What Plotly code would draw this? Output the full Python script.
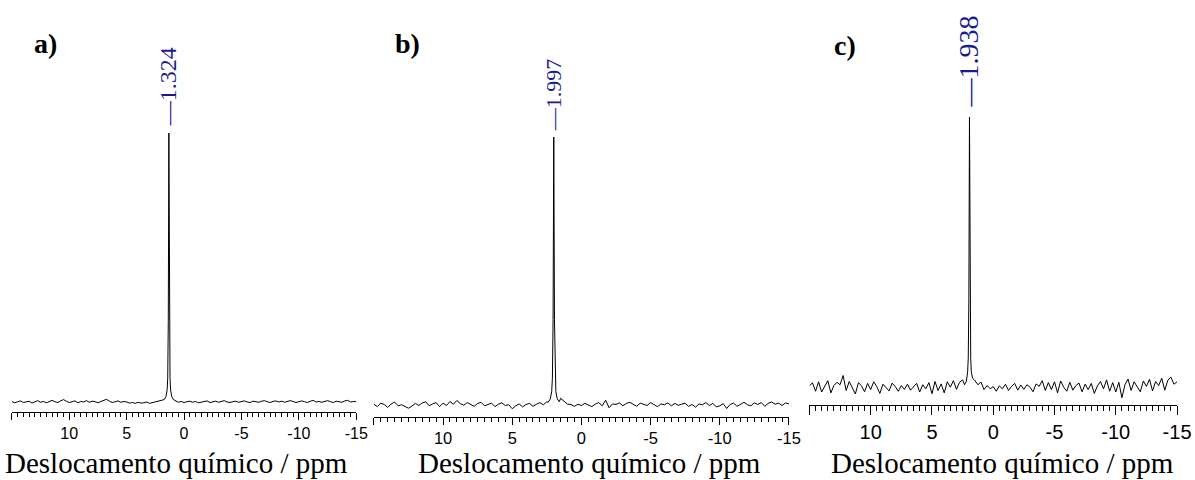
import numpy as np
import plotly.graph_objects as go

# Chemical-shift grid for the baseline (ppm, high to low)
ppm_grid = np.arange(15.0, -15.001, -0.25)

# Baseline intensities (peak maximum = 100), one value per grid point
baseline_a = [
    0.2, -0.3, 0.1, 0.4, -0.2, 0.0, 0.3, -0.4, 0.1, 0.5,
    -0.1, 0.2, -0.3, 0.3, 0.6, 0.1, -0.2, 0.4, 0.9, 0.3,
    -0.2, 0.1, 0.4, -0.3, 0.2, 0.0, 0.5, -0.1, 0.3, 0.1,
    -0.3, 0.2, 0.6, 1.0, 0.3, -0.2, 0.1, 0.4, -0.1, 0.2,
    0.0, -0.4, -0.2, -0.5, -0.1, -0.4, -0.3, 0.0, -0.5, -0.2,
    0.1, 0.3, 0.6, 1.0, 2.0, 2.0, 1.0, 0.4, -0.1, 0.2,
    -0.2, 0.1, 0.3, -0.1, 0.2, -0.3, 0.0, 0.2, 0.4, -0.2,
    0.1, 0.3, -0.1, 0.2, 0.5, 0.0, -0.2, 0.1, 0.3, -0.1,
    0.2, 0.4, 0.0, -0.2, 0.3, 0.1, -0.1, 0.3, 0.5, 0.1,
    -0.2, 0.2, 0.4, 0.0, 0.3, -0.1, 0.1, 0.5, 0.2, -0.2,
    0.1, 0.4, 0.1, -0.2, 0.3, 0.6, 0.0, 0.2, -0.1, 0.3,
    0.5, 0.1, -0.2, 0.3, 0.2, -0.1, 0.4, 0.6, 0.0, 0.2, 0.1,
]
baseline_b = [
    0.3, -0.6, 0.7, 0.2, -0.9, 0.4, 1.1, -0.3, 0.1, -0.7,
    -1.2, -0.4, 0.6, -0.2, 0.8, 1.2, -0.3, 0.4, 0.9, -0.6,
    0.7, -0.2, 1.3, 0.3, 1.7, 0.5, -0.1, 0.9, 0.2, -0.5,
    0.6, 1.0, -0.3, 0.2, 0.7, -0.6, 0.3, 0.8, -0.2, 0.1,
    -1.4, -0.3, 0.4, -0.7, 0.2, 0.6, -0.5, 0.3, 0.9, 0.1,
    1.2, 0.4, 0.9, 1.5, 2.5, 1.5, 0.3, 0.2, -0.5, 0.3,
    -0.2, 0.6, 0.1, -0.6, 0.3, 0.9, -0.3, 1.8, -1.0, 0.4,
    0.2, 0.8, -0.3, 0.6, 1.0, 0.1, -0.5, 0.7, 0.3, -0.2,
    0.9, 0.2, -0.6, 0.4, 0.1, 0.8, -0.3, 0.6, -0.1, 0.3,
    0.7, -0.5, 0.2, -0.8, 0.4, 0.1, 0.9, -0.2, 0.6, -0.7,
    -0.3, 0.5, -1.3, 0.2, 0.7, -0.5, 0.3, 1.0, 0.1, -0.3,
    0.8, 0.2, 0.9, -0.5, 0.6, 1.1, 0.3, 0.7, -0.2, 0.8, 0.4,
]
baseline_c = [
    0.8, 1.9, -1.2, 2.3, -1.5, 0.5, 2.7, -1.8, 0.9, 2.1,
    1.2, 4.6, -0.9, 2.4, 0.3, -2.2, 2.0, 0.8, -1.4, 1.7,
    -0.6, 2.3, 0.5, -2.0, 1.4, 0.2, -1.1, 1.8, 0.6, -1.2,
    0.9, -0.5, 1.4, -0.8, 0.3, 1.7, -1.5, 1.2, -0.3, 2.0,
    -2.1, 2.4, -0.9, 1.5, -1.8, 2.3, 0.3, 2.7, -0.5, 2.1,
    3.0, 3.4, 3.6, 4.2, 3.6, 1.2, 2.2, -0.6, 0.9, -0.3,
    0.5, -1.2, 0.8, -0.3, 1.4, -0.9, 0.6, 1.7, -0.8, 1.1,
    -0.5, 1.2, 0.3, -1.4, 1.5, 0.6, 2.7, -0.9, 2.0, -0.6,
    2.3, -1.8, 2.6, 0.3, -1.2, 2.1, -0.8, 0.9, 1.8, -1.4,
    1.4, -0.6, 1.7, -2.0, 0.8, 2.4, -0.3, 3.0, -1.2, 2.0,
    -1.5, 2.1, -3.6, 1.2, 3.3, -0.9, 2.3, 0.5, -1.4, 2.6,
    0.6, 3.2, -1.1, 2.4, 0.9, 3.6, -0.8, 2.9, 4.0, 1.4, 2.3,
]

# Line shape around each resonance: offsets from the peak position (ppm)
peak_offsets = [-0.4, -0.25, -0.15, -0.1, -0.05, 0.0, 0.05, 0.1, 0.15, 0.25, 0.4]
peak_a = [0.9, 2.0, 4.5, 9.0, 30.0, 100.0, 30.0, 9.0, 4.5, 2.0, 0.9]
peak_b = [1.2, 2.3, 5.0, 10.0, 32.0, 100.0, 32.0, 10.0, 5.0, 2.3, 1.0]
peak_c = [3.0, 3.6, 6.0, 11.0, 33.0, 100.0, 33.0, 11.0, 6.0, 2.5, 1.2]

# Peak positions (ppm), panel letters and axis text
shifts = [1.324, 1.997, 1.938]
shift_labels = ["—1.324", "—1.997", "—1.938"]
panel_letters = ["a)", "b)", "c)"]
axis_title = "Deslocamento químico / ppm"
tick_vals = [15, 10, 5, 0, -5, -10, -15]
tick_text = ["", "10", "5", "0", "-5", "-10", "-15"]
mid_tick_vals = [12.5, 7.5, 2.5, -2.5, -7.5, -12.5]

W, H = 1195, 480

# Pixel geometry per panel: left/right axis ends, axis line, baseline, peak top
panels = [
    dict(x0=12.0, x1=360.5, axis=412.0, base=402.0, top=133.0,
         tfont=16, tlen=7, mlen=5, nlen=3.5, lab_px=128, lab_size=24,
         letter_x=32, letter_y=43, title_x=178.5),
    dict(x0=378.3, x1=798.3, axis=416.5, base=405.0, top=137.0,
         tfont=16.5, tlen=7, mlen=5, nlen=4, lab_px=133, lab_size=22,
         letter_x=398, letter_y=43, title_x=596),
    dict(x0=819.0, x1=1191.0, axis=404.5, base=388.0, top=117.0,
         tfont=20, tlen=9.5, mlen=7, nlen=5, lab_px=109, lab_size=28,
         letter_x=842, letter_y=45, title_x=1014),
]

baselines = [baseline_a, baseline_b, baseline_c]
peaks = [peak_a, peak_b, peak_c]


def build_spectrum(base, peak, centre):
    grid = np.asarray(ppm_grid)
    base = np.asarray(base, dtype=float)
    keep = np.abs(grid - centre) > 0.45
    x = np.concatenate([grid[keep], centre + np.asarray(peak_offsets)])
    y = np.concatenate([base[keep], np.asarray(peak, dtype=float)])
    order = np.argsort(-x)
    return x[order], y[order]


fig = go.Figure()
layout = dict(
    width=W, height=H,
    margin=dict(l=0, r=0, t=0, b=0),
    paper_bgcolor="white", plot_bgcolor="white",
    showlegend=False,
    annotations=[],
)

for i, p in enumerate(panels):
    n = i + 1
    xa = "x" if n == 1 else f"x{n}"
    ya = "y" if n == 1 else f"y{n}"
    xkey = "xaxis" if n == 1 else f"xaxis{n}"
    ykey = "yaxis" if n == 1 else f"yaxis{n}"

    x, y = build_spectrum(baselines[i], peaks[i], shifts[i])
    fig.add_trace(go.Scatter(x=x, y=y, mode="lines", xaxis=xa, yaxis=ya,
                             line=dict(color="black", width=1),
                             hoverinfo="skip"))

    y_lo = -(p["axis"] - p["base"]) / (p["base"] - p["top"]) * 100.0
    layout[ykey] = dict(domain=[(H - p["axis"]) / H, (H - p["top"]) / H],
                        range=[y_lo, 100.0], visible=False, anchor=xa)
    layout[xkey] = dict(
        domain=[p["x0"] / W, p["x1"] / W], anchor=ya,
        range=[15, -15], autorange=False,
        showline=True, linecolor="black", linewidth=1,
        showgrid=False, zeroline=False,
        tickmode="array", tickvals=tick_vals, ticktext=tick_text,
        ticks="outside", ticklen=p["tlen"], tickwidth=1, tickcolor="black",
        tickfont=dict(family="Liberation Sans, Arial, sans-serif",
                      size=p["tfont"], color="black"),
        minor=dict(tickmode="linear", tick0=0, dtick=0.5, ticks="outside",
                   ticklen=p["nlen"], tickwidth=1, tickcolor="black",
                   showgrid=False),
    )
    # Intermediate ticks every 2.5 ppm on a companion axis
    okey = f"xaxis{n + 3}"
    layout[okey] = dict(
        overlaying=xa, anchor=ya, range=[15, -15], autorange=False,
        tickmode="array", tickvals=mid_tick_vals, ticks="outside",
        ticklen=p["mlen"], tickwidth=1, tickcolor="black",
        showticklabels=False, showline=False, showgrid=False, zeroline=False,
    )

    # Axis title
    layout["annotations"].append(dict(
        text=axis_title, xref="paper", yref="paper",
        x=p["title_x"] / W, y=1 - 463 / H, xanchor="center", yanchor="middle",
        showarrow=False,
        font=dict(family="Liberation Serif, Times New Roman, serif",
                  size=29, color="black"),
    ))
    # Panel letter
    layout["annotations"].append(dict(
        text=f"<b>{panel_letters[i]}</b>", xref="paper", yref="paper",
        x=p["letter_x"] / W, y=1 - p["letter_y"] / H,
        xanchor="left", yanchor="middle", showarrow=False,
        font=dict(family="Liberation Serif, Times New Roman, serif",
                  size=28, color="black"),
    ))
    # Peak position label
    layout["annotations"].append(dict(
        text=shift_labels[i], xref=xa, yref="paper",
        x=shifts[i], y=1 - p["lab_px"] / H,
        xanchor="center", yanchor="bottom", textangle=-90,
        showarrow=False,
        font=dict(family="Liberation Serif, Times New Roman, serif",
                  size=p["lab_size"], color="#1a1a94"),
    ))

fig.update_layout(**layout)
fig.write_html("out.html")
